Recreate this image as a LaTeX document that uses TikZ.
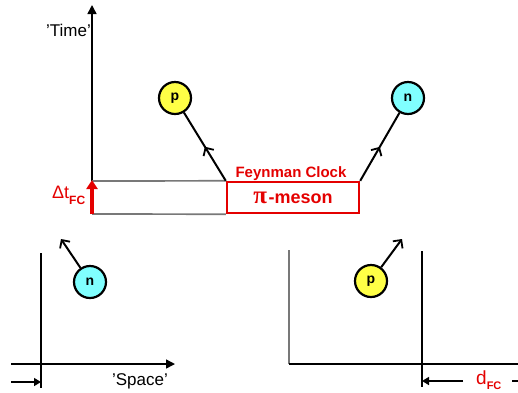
\documentclass[tikz,border=0pt]{standalone}
\usepackage{fontspec}
\setmainfont{Liberation Sans}
\newfontfamily\greekfont{Liberation Serif}
\usetikzlibrary{arrows.meta,decorations.markings}
\definecolor{fcred}{RGB}{228,0,0}
\definecolor{pyellow}{RGB}{255,255,70}
\definecolor{ncyan}{RGB}{128,255,255}
\definecolor{guidegray}{RGB}{120,120,120}

\begin{document}
\begin{tikzpicture}[x=1pt,y=-1pt,
  axis/.style={line width=1.5pt, black},
  guide/.style={line width=1.7pt, guidegray},
  axisarrow/.style={axis, -{Triangle[length=9pt,width=9pt]}},
  dimarrow/.style={line width=1.5pt, black, -{Triangle[length=7pt,width=8pt]}},
  particle/.style={circle, draw=black, line width=2.2pt, minimum size=32pt,
    inner sep=0pt, font=\bfseries\fontsize{14}{14}\selectfont},
  proton/.style={particle, fill=pyellow},
  neutron/.style={particle, fill=ncyan},
  track/.style={line width=2pt, postaction=decorate,
    decoration={markings, mark=at position 0.5 with
      {\arrow{Straight Barb[length=6pt,width=12pt,line width=1.8pt]}}}},
  kick/.style={line width=2pt, -{Straight Barb[length=6pt,width=12pt,line width=1.8pt]}},
  label/.style={font=\fontsize{17}{17}\selectfont, inner sep=0pt},
  redlabel/.style={text=fcred, inner sep=0pt}
]
\useasboundingbox (0,0) rectangle (518,392);

% ---- upper panel: space-time view of the clock ----
\coordinate (torigin) at (92,181);
\coordinate (ttop) at (92,5);
\coordinate (tbase) at (92,214);
\draw[axisarrow] (torigin) -- (ttop);
\node[label, anchor=east] (timelbl) at (91,30) {'Time'};

% clock box
\node[draw=fcred, line width=2.4pt, minimum width=132pt, minimum height=31pt,
  inner sep=0pt, text=fcred] (clock) at (293,197.5)
  {{\greekfont\bfseries\fontsize{25}{25}\selectfont π}\,{\bfseries\fontsize{18}{18}\selectfont -meson}};
\node[redlabel, font=\bfseries\fontsize{15}{15}\selectfont, anchor=base]
  (fclbl) at (291,177) {Feynman Clock};

% guide lines from the time axis to the box
\draw[guide] (torigin) -- (clock.north west);
\draw[guide] (tbase) -- (clock.south west);

% clock duration
\draw[fcred, line width=3.5pt, -{Triangle[length=9pt,width=11pt]}] (tbase) -- (92,180);
\node[redlabel, anchor=base west] (dtlbl) at (52,198)
  {\fontsize{18}{18}\selectfont Δt\raisebox{-6pt}{\bfseries\fontsize{12}{12}\selectfont FC}};

% outgoing particles
\node[proton] (p1) at (175,98) {p};
\node[neutron] (n1) at (408,98) {n};
\draw[track] (clock.north west) -- (p1);
\draw[track] (clock.north east) -- (n1);

% ---- lower left panel ----
\coordinate (llTop) at (41,253);
\coordinate (llBot) at (41,388);
\coordinate (llAxL) at (11,364);
\coordinate (llAxR) at (175,364);
\draw[axis] (llTop) -- (llBot);
\draw[axisarrow] (llAxL) -- (llAxR);
\node[label] (spacelbl) at (140,381) {'Space'};
\coordinate (lldim) at (11,382);
\coordinate (lldimtip) at (41,382);
\draw[dimarrow] (lldim) -- (lldimtip);

\node[neutron] (n2) at (90,282) {n};
\coordinate (n2tip) at (61,239);
\draw[kick] (n2) -- (n2tip);

% ---- lower right panel ----
\coordinate (lrTop) at (289,250);
\coordinate (lrCorner) at (289,364);
\coordinate (lrAxR) at (518,364);
\coordinate (lrMidTop) at (422,251);
\coordinate (lrMidBot) at (422,387);
\draw[guide, line width=1.5pt] (lrTop) -- (lrCorner);
\draw[axis] (lrCorner) -- (lrAxR);
\draw[axis] (lrMidTop) -- (lrMidBot);

\coordinate (lrdim) at (463,381);
\coordinate (lrdimtip) at (422,381);
\draw[dimarrow] (lrdim) -- (lrdimtip);
\node[redlabel, anchor=base west] (dfclbl) at (476,384)
  {\fontsize{19}{19}\selectfont d\raisebox{-5pt}{\bfseries\fontsize{11}{11}\selectfont FC}};
\coordinate (lrdimA) at (512,381);
\coordinate (lrdimB) at (518,381);
\draw[axis] (lrdimA) -- (lrdimB);

\node[proton] (p2) at (371,281) {p};
\coordinate (p2tip) at (402,239);
\draw[kick] (p2) -- (p2tip);
\end{tikzpicture}
\end{document}
